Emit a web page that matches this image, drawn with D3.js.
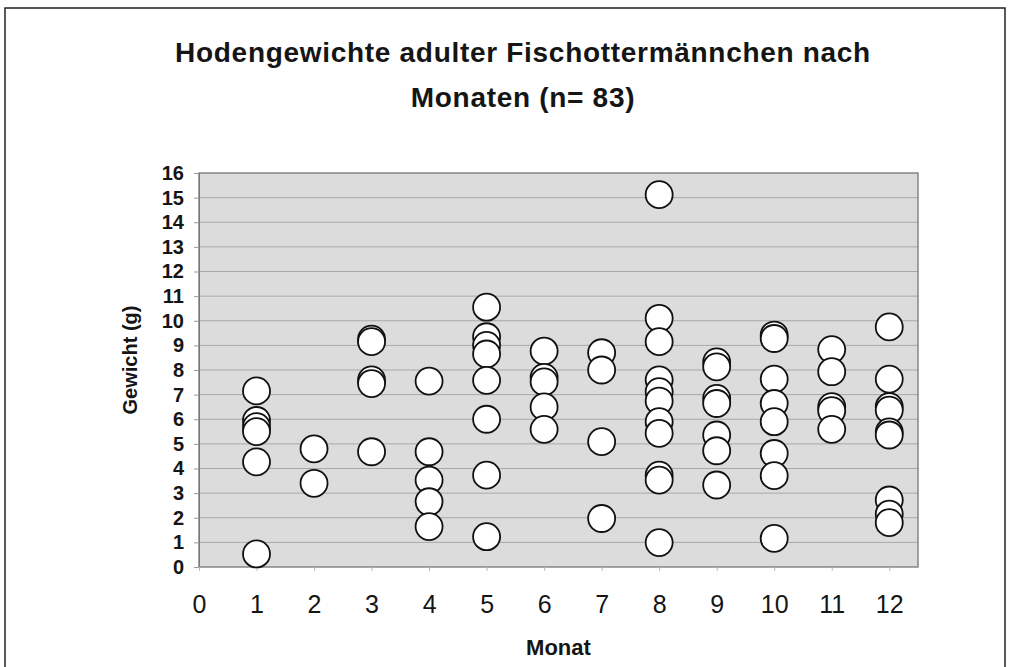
<!DOCTYPE html>
<html>
<head>
<meta charset="utf-8">
<script src="https://cdn.jsdelivr.net/npm/d3@7"></script>
<style>
  body { margin: 0; background: #fff; }
  svg { display: block; font-family: "Liberation Sans", Arial, sans-serif; }
</style>
</head>
<body>
<svg width="1022" height="667"></svg>
<script>
// months (x) and testis weights in g (y)
const months = [
  1, 1, 1, 1, 1, 1,
  2, 2,
  3, 3, 3, 3, 3,
  4, 4, 4, 4, 4,
  5, 5, 5, 5, 5, 5, 5, 5,
  6, 6, 6, 6, 6,
  7, 7, 7, 7,
  8, 8, 8, 8, 8, 8, 8, 8, 8, 8, 8,
  9, 9, 9, 9, 9, 9, 9,
  10, 10, 10, 10, 10, 10, 10, 10,
  11, 11, 11, 11, 11,
  12, 12, 12, 12, 12, 12, 12, 12, 12
];
const weights = [
  7.15, 5.95, 5.7, 5.5, 4.27, 0.53,
  4.8, 3.4,
  9.25, 9.15, 7.6, 7.45, 4.68,
  7.55, 4.68, 3.53, 2.65, 1.64,
  10.55, 9.35, 9.0, 8.65, 7.58, 6.0, 3.73, 1.23,
  8.77, 7.7, 7.52, 6.5, 5.59,
  8.7, 8.0, 5.09, 1.97,
  15.12, 10.1, 9.15, 7.6, 7.12, 6.74, 5.9, 5.43, 3.73, 3.53, 0.99,
  8.33, 8.13, 6.85, 6.64, 5.36, 4.72, 3.33,
  9.42, 9.28, 7.63, 6.64, 5.9, 4.61, 3.71, 1.16,
  8.83, 7.93, 6.51, 6.35, 5.59,
  9.75, 7.63, 6.51, 6.37, 5.49, 5.36, 2.72, 2.15, 1.8
];
const xTicks = d3.range(0, 13);
const yTicks = d3.range(0, 17);

const titleLines = ["Hodengewichte adulter Fischottermännchen nach", "Monaten (n= 83)"];

const svg = d3.select("svg");

// outer frame (bottom edge runs off the page)
svg.append("rect")
  .attr("x", 5).attr("y", 8)
  .attr("width", 1000).attr("height", 700)
  .attr("fill", "none")
  .attr("stroke", "#222")
  .attr("stroke-width", 1.5);

const plot = { left: 199, right: 918, top: 173, bottom: 567 };

const x = d3.scaleLinear().domain([0, 12.5]).range([plot.left, plot.right]);
const y = d3.scaleLinear().domain([0, 16]).range([plot.bottom, plot.top]);

// title
svg.append("g")
  .selectAll("text")
  .data(titleLines)
  .enter().append("text")
  .attr("x", 523)
  .attr("y", (d, i) => 62 + i * 45)
  .attr("text-anchor", "middle")
  .attr("font-size", 28)
  .attr("font-weight", "bold")
  .attr("letter-spacing", 0.7)
  .attr("fill", "#151515")
  .text(d => d);

// plot background
svg.append("rect")
  .attr("x", plot.left).attr("y", plot.top)
  .attr("width", plot.right - plot.left)
  .attr("height", plot.bottom - plot.top)
  .attr("fill", "#dcdcdc");

// horizontal grid
svg.append("g")
  .selectAll("line")
  .data(yTicks.slice(1, -1))
  .enter().append("line")
  .attr("x1", plot.left).attr("x2", plot.right)
  .attr("y1", d => y(d)).attr("y2", d => y(d))
  .attr("stroke", "#a8a8a8")
  .attr("stroke-width", 1);

svg.append("rect")
  .attr("x", plot.left).attr("y", plot.top)
  .attr("width", plot.right - plot.left)
  .attr("height", plot.bottom - plot.top)
  .attr("fill", "none")
  .attr("stroke", "#777")
  .attr("stroke-width", 1.3);

// y axis
const yAxis = svg.append("g")
  .attr("transform", "translate(" + plot.left + ",0)")
  .call(d3.axisLeft(y).tickValues(yTicks).tickSize(5).tickPadding(10));
yAxis.select(".domain").attr("stroke", "#777");
yAxis.selectAll(".tick line").attr("stroke", "#999");
yAxis.selectAll("text")
  .attr("font-family", "Liberation Sans, Arial, sans-serif")
  .attr("font-size", 20)
  .attr("font-weight", "bold")
  .attr("fill", "#151515");

// x axis
const xAxis = svg.append("g")
  .attr("transform", "translate(0," + plot.bottom + ")")
  .call(d3.axisBottom(x).tickValues(xTicks).tickSize(4).tickPadding(24));
xAxis.select(".domain").remove();
xAxis.selectAll(".tick line").attr("stroke", "#bbb");
xAxis.selectAll("text")
  .attr("font-family", "Liberation Sans Narrow, Liberation Sans, Arial, sans-serif")
  .attr("font-size", 25)
  .attr("fill", "#151515");

// axis titles
svg.append("text")
  .attr("transform", "translate(137,360) rotate(-90)")
  .attr("text-anchor", "middle")
  .attr("font-size", 20)
  .attr("font-weight", "bold")
  .attr("fill", "#151515")
  .text("Gewicht (g)");

svg.append("text")
  .attr("x", (plot.left + plot.right) / 2)
  .attr("y", 655)
  .attr("text-anchor", "middle")
  .attr("font-size", 22)
  .attr("font-weight", "bold")
  .attr("fill", "#151515")
  .text("Monat");

// points
svg.append("g")
  .selectAll("circle")
  .data(months.map((m, i) => [m, weights[i]]))
  .enter().append("circle")
  .attr("cx", d => x(d[0]))
  .attr("cy", d => y(d[1]))
  .attr("r", 13.5)
  .attr("fill", "#fff")
  .attr("stroke", "#111")
  .attr("stroke-width", 1.8);
</script>
</body>
</html>
